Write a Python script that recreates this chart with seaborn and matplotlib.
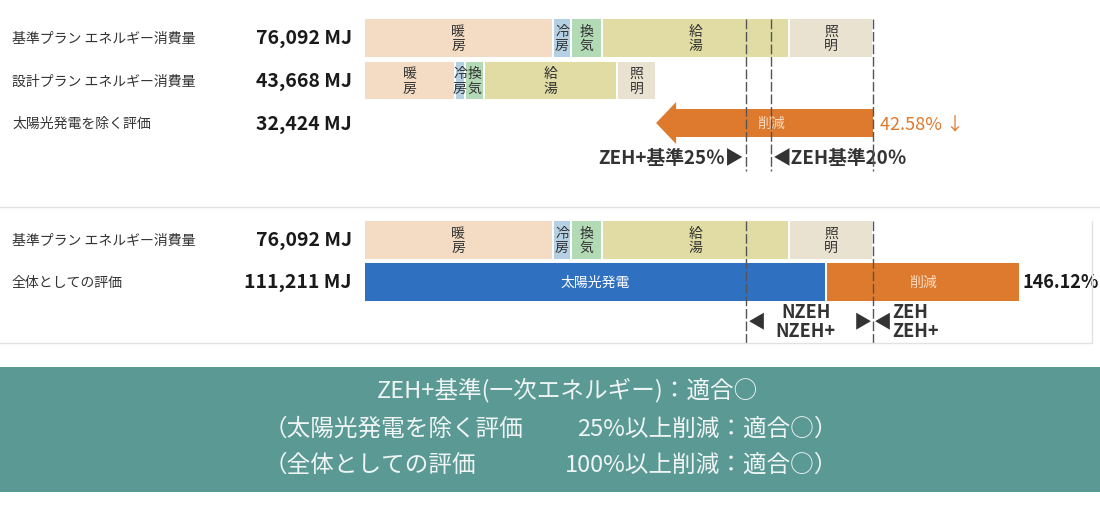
import numpy as np
import pandas as pd
import matplotlib
matplotlib.use("Agg")
import matplotlib.pyplot as plt
import matplotlib.transforms as mtrans
from matplotlib.patches import Rectangle
from matplotlib.lines import Line2D
import seaborn as sns

sns.set_theme(style="white")
plt.rcParams["font.family"] = ["Noto Sans CJK JP", "DejaVu Sans"]

# ---------------- data ----------------
uses = ["暖房", "冷房", "換気", "給湯", "照明"]
use_colors = ["#f3dcc3", "#b5d0e3", "#b2dab5", "#e0dca3", "#e9e2d0"]
base_uses = [28200, 2800, 4600, 27900, 12592]      # 76,092 MJ
design_uses = [13600, 1500, 2800, 19900, 5868]     # 43,668 MJ
base_total = 76092
design_total = 43668
reduction_total = 32424

overall_parts = ["太陽光発電", "削減"]
overall_values = [69000, 29000]
overall_colors = ["#2f71c0", "#de7a2e"]

top_rows = ["基準", "設計", "除く"]
top_labels = ["基準プラン エネルギー消費量", "設計プラン エネルギー消費量", "太陽光発電を除く評価"]
top_values = ["76,092 MJ", "43,668 MJ", "32,424 MJ"]
bottom_rows = ["基準", "全体"]
bottom_labels = ["基準プラン エネルギー消費量", "全体としての評価"]
bottom_values = ["76,092 MJ", "111,211 MJ"]
reduction_pct = "42.58% ↓"
overall_pct = "146.12%"
top_thresholds = [0.75, 0.80, 1.00]
bottom_thresholds = [0.75, 1.00]

summary_title = "ZEH+基準(一次エネルギー)：適合○"
summary_left = ["（太陽光発電を除く評価", "（全体としての評価"]
summary_right = ["25%以上削減：適合○）", "100%以上削減：適合○）"]

# ---------------- layout helpers ----------------
W, H = 1100, 510
ORANGE = "#de7a2e"
TEAL = "#5b9994"
s = base_total / 509.0          # MJ per pixel
x0 = 364                         # pixel of 0 MJ

fig = plt.figure(figsize=(W / 100, H / 100), dpi=100)
fig.patch.set_facecolor("white")


def fy(py):
    return 1 - py / H


def stacked_df(rows, series, names):
    recs = []
    for r, vals in zip(rows, series):
        cum = np.cumsum(vals)
        for n, c in zip(names, cum):
            recs.append({"row": r, "part": n, "cum": c})
    return pd.DataFrame(recs)


def seg_labels(ax, row_idx, vals, names, color, fs=10):
    cum = np.cumsum(vals)
    h = 0.9
    for v, c, n in zip(vals, cum, names):
        t = ax.text(c - v / 2, row_idx, "\n".join(n), ha="center", va="center",
                    fontsize=fs, color=color, linespacing=1.05)
        r = Rectangle((c - v, row_idx - h / 2), v, h, transform=ax.transData,
                      fill=False, lw=0)
        t.set_clip_path(r)


bar_kw = dict(dodge=False, orient="h", width=0.94, edgecolor="white",
              linewidth=1.4, errorbar=None, legend=False, saturation=1)

# ================= TOP PANEL =================
axT = fig.add_axes([0, fy(208), 1, 208 / H])
pT0, pitchT = 39.0, 42.5
dfT = stacked_df(top_rows[:2], [base_uses, design_uses], uses)
sns.barplot(data=dfT, x="cum", y="row", hue="part", hue_order=uses[::-1],
            palette=dict(zip(uses, use_colors)), order=top_rows, ax=axT, **bar_kw)
axT.set_xlim(-x0 * s, (W - x0) * s)
axT.set_ylim((208 - pT0) / pitchT, (0 - pT0) / pitchT)
axT.axis("off")

seg_labels(axT, 0, base_uses, uses, "#333333")
seg_labels(axT, 1, design_uses, uses, "#333333")

# reduction arrow
axT.arrow(base_total, 2, -reduction_total, 0, width=28 / pitchT,
          head_width=42 / pitchT, head_length=20 * s, length_includes_head=True,
          color=ORANGE, lw=0, zorder=3)
axT.text(design_total + reduction_total / 2 + 6 * s, 2, "削減", ha="center",
         va="center", fontsize=10, color="#f7dcc4", zorder=4)
axT.text(base_total + 7 * s, 2, reduction_pct, ha="left", va="center",
         fontsize=13, color=ORANGE)

# threshold lines
axT.vlines([t * base_total for t in top_thresholds],
           ymin=(20 - pT0) / pitchT, ymax=(172 - pT0) / pitchT,
           colors="#555555", linewidth=1, linestyles=(0, (7, 2)), zorder=5)
yl = (158 - pT0) / pitchT
axT.text(0.75 * base_total - 2 * s, yl, "ZEH+基準25％▶", ha="right", va="center",
         fontsize=13.5, color="#333333", fontweight="bold")
axT.text(0.80 * base_total + 2 * s, yl, "◀ZEH基準20％", ha="left", va="center",
         fontsize=13.5, color="#333333", fontweight="bold")

trT = mtrans.blended_transform_factory(fig.transFigure, axT.transData)
for i, (lab, val) in enumerate(zip(top_labels, top_values)):
    axT.text(12 / W, i, lab, transform=trT, ha="left", va="center",
             fontsize=10, color="#333333")
    axT.text(352 / W, i, val, transform=trT, ha="right", va="center",
             fontsize=14, color="#1a1a1a", fontweight="bold")

# ================= BOTTOM PANEL =================
axB = fig.add_axes([0, fy(352), 1, 144 / H])
pB0, pitchB, pBtop = 241.0, 42.0, 208
dfB1 = stacked_df(bottom_rows[:1], [base_uses], uses)
sns.barplot(data=dfB1, x="cum", y="row", hue="part", hue_order=uses[::-1],
            palette=dict(zip(uses, use_colors)), order=bottom_rows, ax=axB, **bar_kw)
dfB2 = stacked_df(bottom_rows[1:], [overall_values], overall_parts)
sns.barplot(data=dfB2, x="cum", y="row", hue="part", hue_order=overall_parts[::-1],
            palette=dict(zip(overall_parts, overall_colors)), order=bottom_rows,
            ax=axB, **bar_kw)
axB.set_xlim(-x0 * s, (W - x0) * s)
axB.set_ylim((352 - pB0) / pitchB, (pBtop - pB0) / pitchB)
axB.axis("off")

seg_labels(axB, 0, base_uses, uses, "#333333")
cumO = np.cumsum(overall_values)
axB.text(cumO[0] - overall_values[0] / 2, 1, overall_parts[0], ha="center",
         va="center", fontsize=10, color="#ffffff")
axB.text(cumO[1] - overall_values[1] / 2, 1, overall_parts[1], ha="center",
         va="center", fontsize=10, color="#f7dcc4")
axB.text(cumO[1] + 3 * s, 1, overall_pct, ha="left", va="center",
         fontsize=13, color="#1a1a1a", fontweight="bold")

axB.vlines([t * base_total for t in bottom_thresholds],
           ymin=(222 - pB0) / pitchB, ymax=(345 - pB0) / pitchB,
           colors="#555555", linewidth=1, linestyles=(0, (7, 2)), zorder=5)
ylb = (322 - pB0) / pitchB
axB.text(0.75 * base_total + 2 * s, ylb, "◀", ha="left", va="center",
         fontsize=13, color="#333333")
axB.text(0.75 * base_total + 60 * s, ylb, "NZEH\nNZEH+", ha="center", va="center",
         fontsize=13, color="#333333", fontweight="bold", linespacing=0.95)
axB.text(base_total - 1 * s, ylb, "▶", ha="right", va="center",
         fontsize=13, color="#333333")
axB.text(base_total + 1 * s, ylb, "◀", ha="left", va="center",
         fontsize=13, color="#333333")
axB.text(base_total + 19 * s, ylb, "ZEH\nZEH+", ha="left", va="center",
         fontsize=13, color="#333333", fontweight="bold", linespacing=0.95)

trB = mtrans.blended_transform_factory(fig.transFigure, axB.transData)
for i, (lab, val) in enumerate(zip(bottom_labels, bottom_values)):
    axB.text(12 / W, i, lab, transform=trB, ha="left", va="center",
             fontsize=10, color="#333333")
    axB.text(352 / W, i, val, transform=trB, ha="right", va="center",
             fontsize=14, color="#1a1a1a", fontweight="bold")

# ================= decorations =================
grey = "#e2e2e2"
fig.add_artist(Line2D([0, 1], [fy(208), fy(208)], color=grey, lw=1))
fig.add_artist(Line2D([0, 1092 / W], [fy(344), fy(344)], color=grey, lw=1))
fig.add_artist(Line2D([1092 / W, 1092 / W], [fy(222), fy(344)], color=grey, lw=1))
fig.add_artist(Rectangle((0, fy(493)), 1, (493 - 368) / H, transform=fig.transFigure,
                         facecolor=TEAL, edgecolor="none", zorder=0))

tc = "#eef5f4"
fig.text(568 / W, fy(390), summary_title, ha="center", va="center",
         fontsize=17, color=tc)
for ln, py in enumerate([429, 465]):
    fig.text(264 / W, fy(py), summary_left[ln], ha="left", va="center",
             fontsize=17, color=tc)
    fig.text(838 / W, fy(py), summary_right[ln], ha="right", va="center",
             fontsize=17, color=tc)

fig.savefig("out.png", dpi=100, facecolor="white")
